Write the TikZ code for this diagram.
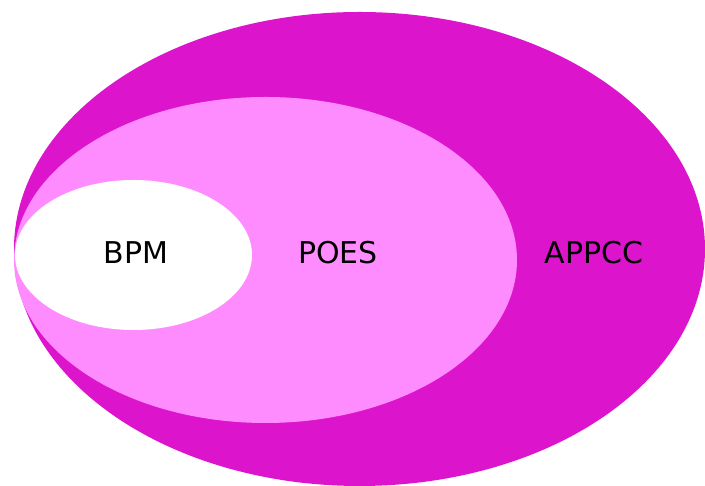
\documentclass[tikz,border=0pt]{standalone}
\usepackage{fontspec}
\setmainfont{DejaVu Sans}
\definecolor{outerc}{RGB}{220,20,204}
\definecolor{midc}{RGB}{255,140,255}
\begin{document}
\begin{tikzpicture}[x=1pt,y=1pt,
  lbl/.style={font=\fontsize{30}{36}\selectfont, text=black, inner sep=0pt}]
\useasboundingbox (0,0) rectangle (705,486);
\clip (0,0) rectangle (705,486);
\fill[outerc] (359.5,237) ellipse [x radius=345.5, y radius=237];
\fill[midc] (265.5,226) ellipse [x radius=251.5, y radius=163];
\fill[white] (133.5,231) ellipse [x radius=118.5, y radius=75];
\node[lbl] (bpm) at (136,233) {BPM};
\node[lbl] (poes) at (338,233) {POES};
\node[lbl] (appcc) at (594,233) {APPCC};
\end{tikzpicture}
\end{document}
